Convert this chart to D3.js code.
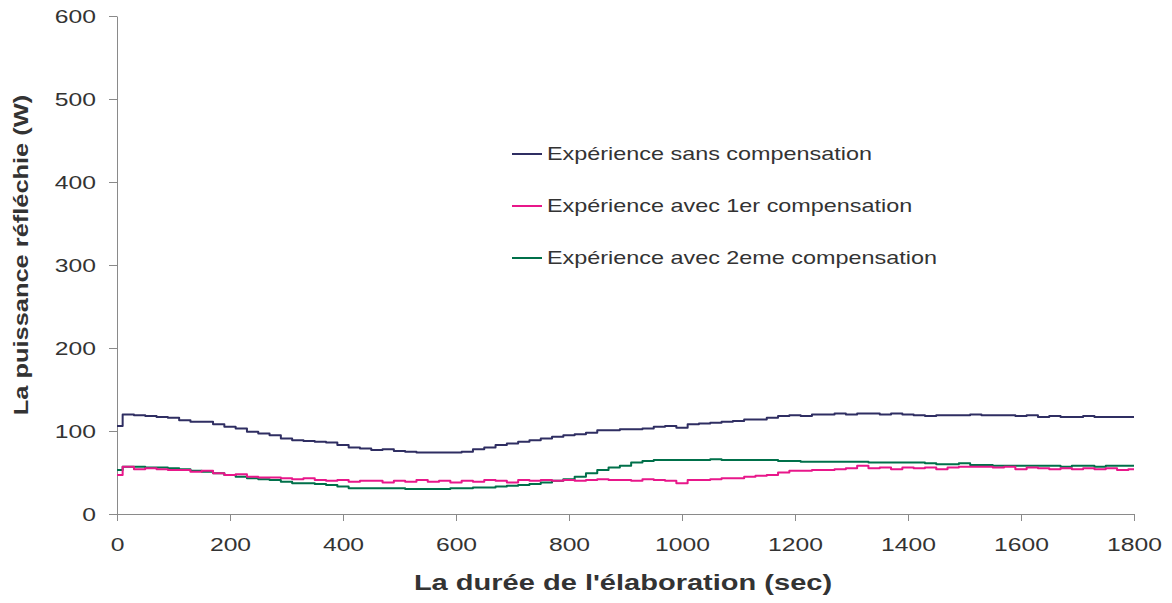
<!DOCTYPE html>
<html>
<head>
<meta charset="utf-8">
<script src="https://cdn.jsdelivr.net/npm/d3@7"></script>
<style>
  html, body { margin: 0; padding: 0; background: #fff; }
  svg { display: block; }
  text { font-family: "Liberation Sans", Arial, Helvetica, sans-serif; fill: #333; }
</style>
</head>
<body>
<svg id="chart" width="1172" height="603"></svg>
<script>
// Sampling instants (s)
const times = [
  0, 20, 40, 60, 80, 100, 120, 140, 160, 180,
  200, 220, 240, 260, 280, 300, 320, 340, 360, 380,
  400, 420, 440, 460, 480, 500, 520, 540, 560, 580,
  600, 620, 640, 660, 680, 700, 720, 740, 760, 780,
  800, 820, 840, 860, 880, 900, 920, 940, 960, 980,
  1000, 1020, 1040, 1060, 1080, 1100, 1120, 1140, 1160, 1180,
  1200, 1220, 1240, 1260, 1280, 1300, 1320, 1340, 1360, 1380,
  1400, 1420, 1440, 1460, 1480, 1500, 1520, 1540, 1560, 1580,
  1600, 1620, 1640, 1660, 1680, 1700, 1720, 1740, 1760, 1780,
  1800
];

// Reflected power (W), run without compensation
const sansCompensation = [
  106, 120, 119, 118, 117, 116, 113, 111, 111, 108,
  105, 103, 99, 97, 95, 91, 89, 88, 87, 86,
  83, 80, 79, 77, 78, 76, 75, 74, 74, 74,
  74, 75, 78, 80, 83, 85, 87, 89, 91, 93,
  95, 96, 98, 101, 101, 102, 102, 103, 105, 106,
  104, 108, 109, 110, 111, 112, 114, 114, 116, 118,
  119, 118, 120, 120, 121, 120, 121, 121, 120, 121,
  120, 119, 118, 119, 119, 119, 120, 119, 119, 119,
  118, 119, 117, 118, 117, 117, 118, 117, 117, 117,
  117
];

// Reflected power (W), run with first compensation
const avecCompensation1 = [
  47, 57, 54, 55, 54, 53, 53, 51, 52, 49,
  47, 48, 45, 44, 44, 43, 42, 43, 41, 40,
  41, 39, 40, 40, 38, 40, 39, 41, 39, 40,
  38, 40, 39, 41, 40, 38, 41, 40, 41, 40,
  41, 40, 41, 42, 41, 41, 40, 42, 41, 40,
  37, 41, 41, 42, 43, 43, 45, 46, 47, 50,
  52, 52, 53, 53, 54, 55, 58, 55, 56, 54,
  56, 55, 56, 54, 56, 57, 57, 57, 56, 57,
  54, 56, 55, 54, 55, 54, 55, 54, 55, 53,
  54
];

// Reflected power (W), run with second compensation
const avecCompensation2 = [
  53, 57, 57, 56, 56, 55, 54, 52, 51, 49,
  47, 45, 43, 42, 41, 39, 37, 37, 36, 35,
  33, 31, 31, 31, 31, 31, 30, 30, 30, 30,
  31, 31, 32, 32, 33, 34, 35, 36, 38, 40,
  42, 45, 49, 53, 56, 58, 62, 64, 65, 65,
  65, 65, 65, 66, 65, 65, 65, 65, 65, 64,
  64, 63, 63, 63, 63, 63, 63, 62, 62, 62,
  62, 62, 61, 60, 60, 61, 59, 59, 58, 58,
  58, 58, 58, 58, 57, 58, 58, 57, 58, 58,
  58
];

const seriesNames = [
  "Expérience sans compensation",
  "Expérience avec 1er compensation",
  "Expérience avec 2eme compensation"
];
const seriesColors = ["#2f2e62", "#e8178a", "#00704a"];

const xTicks = [0, 200, 400, 600, 800, 1000, 1200, 1400, 1600, 1800];
const yTicks = [0, 100, 200, 300, 400, 500, 600];

const xTitle = "La durée de l'élaboration (sec)";
const yTitle = "La puissance réfléchie (W)";

// Glyphs in this chart are set a little wide
const tickStretch = 1.3;
const titleStretch = 1.32;
const yTitleStretch = 1.21;
const legendStretch = 1.3;

const svg = d3.select("#chart");
const x = d3.scaleLinear().domain([0, 1800]).range([117, 1134]);
const y = d3.scaleLinear().domain([0, 600]).range([514, 16]);

const axisColor = "#8a8a8a";
const plain = d3.format("d");

// Y axis
const gy = svg.append("g")
  .attr("transform", `translate(${x(0)},0)`)
  .call(d3.axisLeft(y).tickValues(yTicks).tickFormat(plain).tickSize(8).tickSizeOuter(0));
gy.select(".domain").attr("stroke", axisColor);
gy.selectAll(".tick line").attr("stroke", axisColor);
gy.selectAll(".tick text")
  .attr("font-size", 19)
  .attr("fill", "#333")
  .attr("font-family", "Liberation Sans, Arial, sans-serif")
  .attr("x", -21 / tickStretch)
  .attr("transform", `scale(${tickStretch},1)`);

// X axis
const gx = svg.append("g")
  .attr("transform", `translate(0,${y(0)})`)
  .call(d3.axisBottom(x).tickValues(xTicks).tickFormat(plain).tickSize(7).tickSizeOuter(0).tickPadding(17));
gx.select(".domain").attr("stroke", axisColor);
gx.selectAll(".tick line").attr("stroke", axisColor);
gx.selectAll(".tick text")
  .attr("font-size", 19)
  .attr("fill", "#333")
  .attr("font-family", "Liberation Sans, Arial, sans-serif")
  .attr("transform", `scale(${tickStretch},1)`);

// Axis titles
svg.append("text")
  .attr("transform", `translate(623,590) scale(${titleStretch},1)`)
  .attr("text-anchor", "middle")
  .attr("font-size", 22)
  .attr("font-weight", "bold")
  .text(xTitle);

svg.append("text")
  .attr("transform", `translate(28,255) rotate(-90) scale(${yTitleStretch},1)`)
  .attr("text-anchor", "middle")
  .attr("font-size", 21)
  .attr("font-weight", "bold")
  .text(yTitle);

// Series lines
const allSeries = [sansCompensation, avecCompensation1, avecCompensation2];
const line = d3.line()
  .x((d, i) => x(times[i]))
  .y(d => y(d))
  .curve(d3.curveStep);

// Draw back to front so the navy line sits on top where they touch
[2, 1, 0].forEach(k => {
  svg.append("path")
    .datum(allSeries[k])
    .attr("fill", "none")
    .attr("stroke", seriesColors[k])
    .attr("stroke-width", 2)
    .attr("stroke-linejoin", "round")
    .attr("d", line);
});

// Legend
const legendRows = [154, 206, 258];
seriesNames.forEach((name, k) => {
  const g = svg.append("g").attr("transform", `translate(512,${legendRows[k]})`);
  g.append("line")
    .attr("x1", 0).attr("x2", 30)
    .attr("y1", 0).attr("y2", 0)
    .attr("stroke", seriesColors[k])
    .attr("stroke-width", 2);
  g.append("text")
    .attr("transform", `translate(35,0) scale(${legendStretch},1)`)
    .attr("dy", "0.35em")
    .attr("font-size", 18)
    .text(name);
});
</script>
</body>
</html>
